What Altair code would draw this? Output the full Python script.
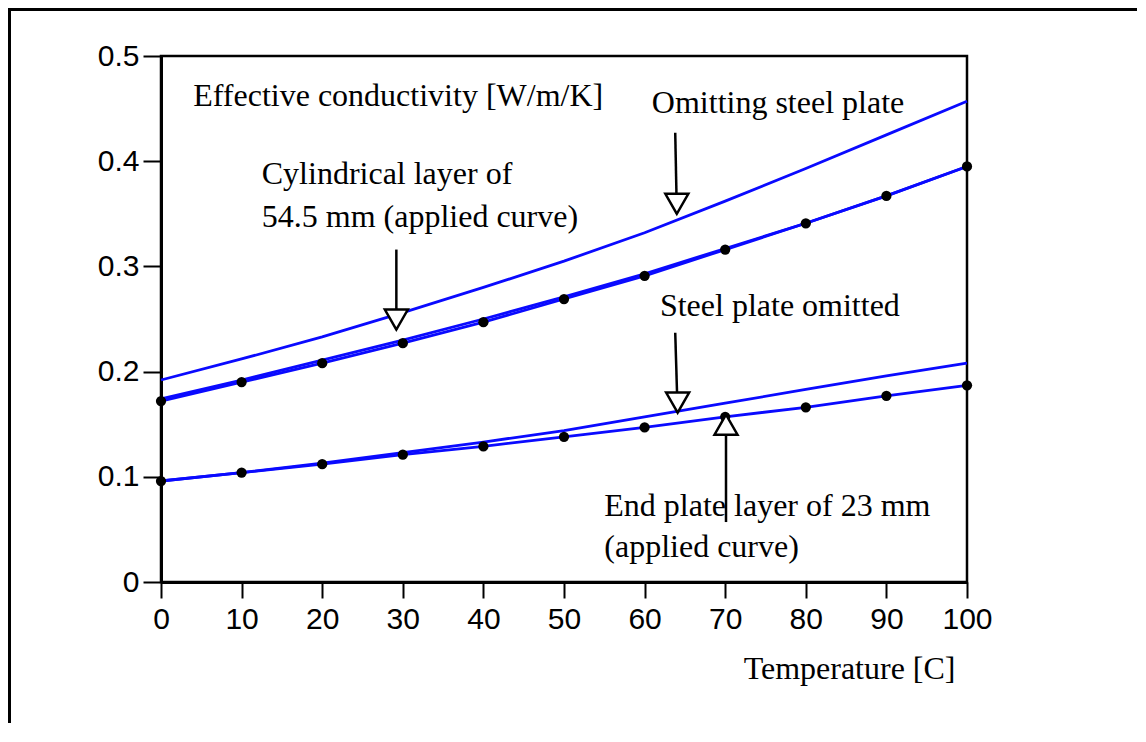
import altair as alt
import pandas as pd

# ---------------- data ----------------
temps = [0, 10, 20, 30, 40, 50, 60, 70, 80, 90, 100]

omitting_steel = [0.192, 0.212, 0.233, 0.256, 0.280, 0.305, 0.332, 0.362, 0.393, 0.425, 0.457]
cyl_applied = [0.174, 0.192, 0.211, 0.230, 0.250, 0.271, 0.293, 0.317, 0.341, 0.367, 0.395]
cyl_points = [0.172, 0.190, 0.208, 0.227, 0.247, 0.269, 0.291, 0.316, 0.341, 0.367, 0.395]
steel_omitted = [0.096, 0.104, 0.113, 0.123, 0.133, 0.144, 0.157, 0.170, 0.183, 0.196, 0.208]
end_applied = [0.096, 0.104, 0.112, 0.121, 0.129, 0.138, 0.147, 0.157, 0.166, 0.177, 0.187]
end_points = [0.096, 0.104, 0.112, 0.121, 0.129, 0.138, 0.147, 0.157, 0.166, 0.177, 0.187]

x_ticks = [0, 10, 20, 30, 40, 50, 60, 70, 80, 90, 100]
y_ticks = [0, 0.1, 0.2, 0.3, 0.4, 0.5]

# annotation texts (data coordinates)
label_texts = ["Effective conductivity [W/m/K]", "Omitting steel plate",
               "Cylindrical layer of", "54.5 mm (applied curve)",
               "Steel plate omitted", "End plate layer of 23 mm", "(applied curve)"]
label_x = [4.0, 60.9, 12.5, 12.5, 61.9, 55.0, 55.0]
label_y = [0.4525, 0.4458, 0.3783, 0.3377, 0.2529, 0.0627, 0.0240]

# arrows: tail and tip (data coordinates)
arrow_tail_x = [63.8, 29.2, 63.8, 70.1]
arrow_tail_y = [0.427, 0.316, 0.237, 0.057]
arrow_tip_x = [64.0, 29.2, 64.1, 70.1]
arrow_tip_y = [0.350, 0.240, 0.161, 0.159]
arrow_dir = ["down", "down", "down", "up"]

# ---------------- tables ----------------
series = {
    "A": omitting_steel,
    "B1": cyl_applied,
    "B2": cyl_points,
    "C": steel_omitted,
    "D": end_applied,
}
rows = []
for name, vals in series.items():
    for t, v in zip(temps, vals):
        rows.append({"series": name, "T": t, "k": v})
lines_df = pd.DataFrame(rows)

pts_df = pd.DataFrame(
    [{"T": t, "k": v} for t, v in zip(temps, cyl_points)]
    + [{"T": t, "k": v} for t, v in zip(temps, end_points)]
)

text_df = pd.DataFrame({"T": label_x, "k": label_y, "txt": label_texts})
arrow_df = pd.DataFrame({
    "T": arrow_tail_x, "k": arrow_tail_y,
    "T2": arrow_tip_x, "k2": arrow_tip_y, "dir": arrow_dir,
})

BLUE = "#0a0aff"

x_scale = alt.Scale(domain=[0, 100], nice=False, zero=False)
y_scale = alt.Scale(domain=[0, 0.5], nice=False, zero=False)

x_axis = alt.Axis(
    values=x_ticks, format="d", grid=False,
    labelFont="Liberation Sans", labelFontSize=30, labelColor="black",
    labelFlush=False, labelPadding=6,
    tickSize=16, tickWidth=2, tickColor="black",
    domainColor="black", domainWidth=3,
    title="Temperature [C]", titleFont="Liberation Serif", titleFontSize=32,
    titleFontWeight="normal", titleColor="black",
    titleX=794, titleY=96, titleAlign="right", titleBaseline="alphabetic",
)
y_axis = alt.Axis(
    values=y_ticks, format="~g", grid=False,
    labelFont="Liberation Sans", labelFontSize=30, labelColor="black",
    labelPadding=4, labelFlush=False,
    tickSize=18, tickWidth=2, tickColor="black",
    domainColor="black", domainWidth=3,
    title=None,
)

X = alt.X("T:Q", scale=x_scale, axis=x_axis)
Y = alt.Y("k:Q", scale=y_scale, axis=y_axis)

lines = alt.Chart(lines_df).mark_line(color=BLUE, strokeWidth=2.8).encode(
    x=X, y=Y, detail="series:N"
)

dots = alt.Chart(pts_df).mark_circle(color="black", size=105, opacity=1).encode(
    x=X, y=Y
)

labels = alt.Chart(text_df).mark_text(
    align="left", baseline="alphabetic", font="Liberation Serif",
    fontSize=32, color="black"
).encode(x=X, y=Y, text="txt:N")

shafts = alt.Chart(arrow_df).mark_rule(color="black", strokeWidth=2.5).encode(
    x=X, y=Y, x2="T2:Q", y2="k2:Q"
)

path_down = "M0,0L-1,-1.74L1,-1.74Z"
path_up = "M0,0L-1,1.74L1,1.74Z"
heads = alt.Chart(arrow_df).mark_point(
    filled=True, fill="white", stroke="black", strokeWidth=2.5,
    size=529, opacity=1, fillOpacity=1
).encode(
    x=alt.X("T2:Q", scale=x_scale, axis=x_axis),
    y=alt.Y("k2:Q", scale=y_scale, axis=y_axis),
    shape=alt.Shape("dir:N", scale=alt.Scale(domain=["down", "up"], range=[path_down, path_up]), legend=None),
)

frame_src = pd.DataFrame({"a": [0]})
frame_top = alt.Chart(frame_src).mark_rule(color="black", strokeWidth=3).encode(
    x=alt.value(-152), x2=alt.value(976), y=alt.value(-46.5)
)
frame_left = alt.Chart(frame_src).mark_rule(color="black", strokeWidth=3).encode(
    x=alt.value(-151.5), y=alt.value(-48), y2=alt.value(700)
)

chart = alt.layer(
    lines, dots, shafts, heads, labels, frame_top, frame_left
).properties(
    width=806, height=526,
    background="white",
    padding={"left": 153, "top": 48, "right": 171, "bottom": 141},
    autosize=alt.AutoSizeParams(type="none"),
).configure_view(
    stroke="black", strokeWidth=2.5
)

chart.save("out.html", embed_options={"renderer": "svg", "actions": False})
